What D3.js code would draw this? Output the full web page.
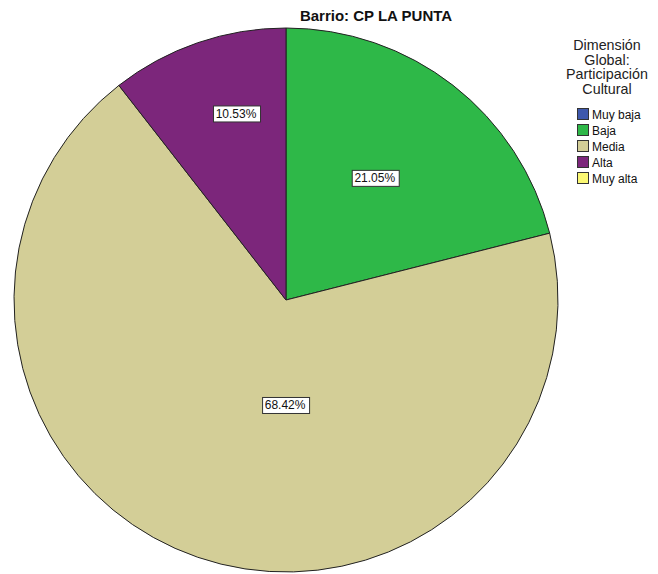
<!DOCTYPE html>
<html>
<head>
<meta charset="utf-8">
<script src="https://d3js.org/d3.v7.min.js"></script>
<style>
body, html {
    margin: 0;
    background: #fff;
    font-family: "Liberation Sans", Arial, sans-serif;
}
.slice {
  stroke: #222;
  stroke-width: 1;
}
.lbl-box {
  fill: #fff;
  stroke: #333;
  stroke-width: 1;
}
</style>
</head>
<body>
<div id="chart"></div>
<script>

// datos del gráfico
var categories = ["Muy baja", "Baja", "Media", "Alta", "Muy alta"];
var percents = [0, 21.05, 68.42, 10.53, 0];
var colors = ["#3e58ac", "#2eb848", "#d3ce97", "#7c267b", "#fbf873"];
var titleText = "Barrio: CP LA PUNTA";
var legendTitle = ["Dimensión", "Global:", "Participación", "Cultural"];

var width = 658,
    height = 574,
    cx = 286,
    cy = 300,
    radius = 272;

// posición de las etiquetas (ángulo en grados desde arriba, fracción del radio)
var labelPos = { "Baja": [36, 0.555], "Media": [180.5, 0.386], "Alta": [345, 0.71] };

var svg = d3.select('#chart').append('svg')
  .attr('width', width)
  .attr('height', height);

svg.append('text')
  .attr('x', 376)
  .attr('y', 21)
  .attr('text-anchor', 'middle')
  .style('font-weight', 'bold')
  .style('font-size', '15px')
  .attr('fill', '#111')
  .text(titleText);

var data = categories.map(function(c, i) {
  return { cat: c, value: percents[i], color: colors[i] };
});

var pie = d3.pie()
  .sort(null)
  .value(function(d) { return d.value; });

var arc = d3.arc()
  .innerRadius(0)
  .outerRadius(radius);

var g = svg.append('g')
  .attr('transform', 'translate(' + cx + ',' + cy + ')');

var arcs = pie(data).filter(function(d) { return d.data.value > 0; });

g.selectAll('path.slice')
  .data(arcs)
  .enter().append('path')
  .attr('class', 'slice')
  .attr('fill', function(d) { return d.data.color; })
  .attr('d', arc);

// etiquetas con recuadro blanco
var labels = g.selectAll('g.lbl')
  .data(arcs)
  .enter().append('g')
  .attr('class', 'lbl')
  .attr('transform', function(d) {
    var p = labelPos[d.data.cat];
    var a = p[0] * Math.PI / 180;
    var r = p[1] * radius;
    return 'translate(' + (Math.sin(a) * r) + ',' + (-Math.cos(a) * r) + ')';
  });

labels.append('text')
  .attr('text-anchor', 'middle')
  .attr('dy', '0.35em')
  .style('font-size', '12px')
  .attr('fill', '#111')
  .text(function(d) { return d.data.value.toFixed(2) + '%'; });

labels.each(function() {
  var t = d3.select(this).select('text');
  var b = t.node().getBBox();
  d3.select(this).insert('rect', 'text')
    .attr('class', 'lbl-box')
    .attr('x', Math.round(b.x - 3) + 0.5)
    .attr('y', Math.round(b.y - 1) + 0.5)
    .attr('width', Math.round(b.width + 6))
    .attr('height', Math.round(b.height + 2));
});

// leyenda
var leg = svg.append('g');

leg.selectAll('text.lt')
  .data(legendTitle)
  .enter().append('text')
  .attr('class', 'lt')
  .attr('x', 607)
  .attr('y', function(d, i) { return 50 + i * 14.5; })
  .attr('text-anchor', 'middle')
  .style('font-size', '14.3px')
  .attr('fill', '#222')
  .text(function(d) { return d; });

var items = leg.selectAll('g.item')
  .data(data)
  .enter().append('g')
  .attr('class', 'item')
  .attr('transform', function(d, i) { return 'translate(577,' + (108 + i * 16) + ')'; });

items.append('rect')
  .attr('x', 0.5)
  .attr('y', 0.5)
  .attr('width', 11)
  .attr('height', 11)
  .attr('fill', function(d) { return d.color; })
  .attr('stroke', '#333');

items.append('text')
  .attr('x', 15)
  .attr('y', 10.5)
  .style('font-size', '12px')
  .attr('fill', '#111')
  .text(function(d) { return d.cat; });

</script>
</body>
</html>
